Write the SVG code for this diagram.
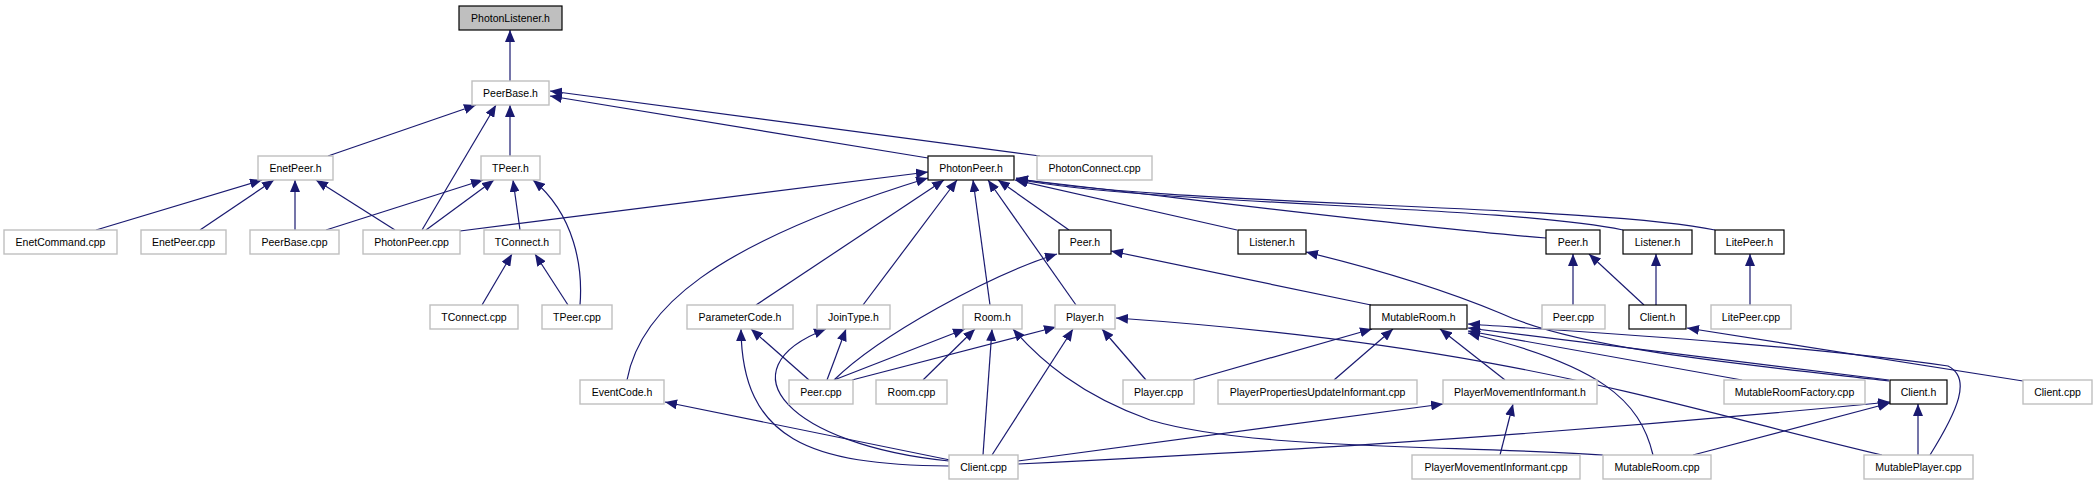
<svg xmlns="http://www.w3.org/2000/svg" width="2096" height="485" viewBox="0 0 2096 485">
<defs>
<marker id="ah" viewBox="0 0 12 10" refX="12" refY="5" markerWidth="12" markerHeight="10" markerUnits="userSpaceOnUse" orient="auto">
<path d="M0,0 L12,5 L0,10 z" fill="#191970"/>
</marker>
</defs>
<style>
rect.g{fill:#ffffff;stroke:#bfbfbf;stroke-width:1.4}
rect.b{fill:#ffffff;stroke:#000000;stroke-width:1.2}
rect.root{fill:#bfbfbf;stroke:#000000;stroke-width:1.2}
text{font-family:"Liberation Sans",Arial,sans-serif;font-size:10.5px;fill:#000;text-anchor:middle}
#edges path{fill:none;stroke:#191970;stroke-width:1.2;marker-end:url(#ah)}
</style>
<rect width="2096" height="485" fill="#ffffff"/>
<g id="edges">
<path d="M510,81 L510,30"/>
<path d="M328,156 L476,105"/>
<path d="M422,230 L496,105"/>
<path d="M510,156 L510,105"/>
<path d="M928,158 L550,96"/>
<path d="M1040,156 L550,91"/>
<path d="M96,230 L262,180"/>
<path d="M200,230 L274,180"/>
<path d="M295,230 L295,180"/>
<path d="M395,230 L316,180"/>
<path d="M326,230 L483,180"/>
<path d="M426,230 L494,180"/>
<path d="M520,230 L513,180"/>
<path d="M580,305 C583,268 575,215 533,180"/>
<path d="M482,305 L512,254"/>
<path d="M568,305 L535,254"/>
<path d="M460,231 L928,172"/>
<path d="M627,380 C640,310 710,245 928,178"/>
<path d="M756,305 L944,180"/>
<path d="M863,305 L957,180"/>
<path d="M990,305 L973,180"/>
<path d="M1076,305 L988,180"/>
<path d="M1069,230 L998,180"/>
<path d="M1237,230 L1015,180"/>
<path d="M1546,238 C1400,226 1200,200 1016,179"/>
<path d="M1623,230 C1500,205 1150,205 1016,179"/>
<path d="M1715,230 C1600,205 1150,205 1016,178"/>
<path d="M834,380 C880,335 990,275 1057,254"/>
<path d="M1371,305 L1111,251"/>
<path d="M1889,381 C1750,365 1580,350 1500,313 C1440,288 1380,270 1306,252"/>
<path d="M1653,455 C1640,400 1600,365 1468,333"/>
<path d="M1889,380 L1468,328"/>
<path d="M1742,380 L1468,331"/>
<path d="M1930,455 C1958,410 1972,378 1948,366 C1800,345 1600,333 1468,324"/>
<path d="M1193,380 L1372,329"/>
<path d="M1334,380 L1393,329"/>
<path d="M1505,380 L1440,329"/>
<path d="M1573,305 L1573,254"/>
<path d="M1644,305 L1589,254"/>
<path d="M1656,305 L1656,254"/>
<path d="M1750,305 L1750,254"/>
<path d="M2023,381 L1687,328"/>
<path d="M809,380 L751,329"/>
<path d="M949,466 C810,465 742,440 741,329"/>
<path d="M827,380 L846,329"/>
<path d="M949,461 C790,445 720,370 826,329"/>
<path d="M834,380 L965,329"/>
<path d="M923,380 L975,329"/>
<path d="M983,455 L992,329"/>
<path d="M1603,455 C1450,445 1250,450 1150,420 C1080,395 1040,360 1013,329"/>
<path d="M852,380 L1056,327"/>
<path d="M992,455 L1073,329"/>
<path d="M1146,380 L1102,329"/>
<path d="M1882,455 C1650,400 1500,345 1116,318"/>
<path d="M950,460 L665,402"/>
<path d="M1018,461 L1443,404"/>
<path d="M1018,464 C1200,455 1500,440 1890,402"/>
<path d="M1693,455 L1890,403"/>
<path d="M1918,455 L1918,404"/>
<path d="M1500,455 L1513,404"/>
</g>
<g id="n_photonlistener_h"><rect class="root" x="459" y="6" width="103" height="24"/><text x="510.5" y="22">PhotonListener.h</text></g>
<g id="n_peerbase_h"><rect class="g" x="472" y="81" width="77" height="24"/><text x="510.5" y="97">PeerBase.h</text></g>
<g id="n_enetpeer_h"><rect class="g" x="258" y="156" width="75" height="24"/><text x="295.5" y="172">EnetPeer.h</text></g>
<g id="n_tpeer_h"><rect class="g" x="481" y="156" width="59" height="24"/><text x="510.5" y="172">TPeer.h</text></g>
<g id="n_photonpeer_h"><rect class="b" x="928" y="156" width="86" height="24"/><text x="971" y="172">PhotonPeer.h</text></g>
<g id="n_photonconnect_cpp"><rect class="g" x="1037" y="156" width="115" height="24"/><text x="1094.5" y="172">PhotonConnect.cpp</text></g>
<g id="n_enetcommand_cpp"><rect class="g" x="4" y="230" width="113" height="24"/><text x="60.5" y="246">EnetCommand.cpp</text></g>
<g id="n_enetpeer_cpp"><rect class="g" x="141" y="230" width="85" height="24"/><text x="183.5" y="246">EnetPeer.cpp</text></g>
<g id="n_peerbase_cpp"><rect class="g" x="250" y="230" width="89" height="24"/><text x="294.5" y="246">PeerBase.cpp</text></g>
<g id="n_photonpeer_cpp"><rect class="g" x="363" y="230" width="97" height="24"/><text x="411.5" y="246">PhotonPeer.cpp</text></g>
<g id="n_tconnect_h"><rect class="g" x="484" y="230" width="76" height="24"/><text x="522" y="246">TConnect.h</text></g>
<g id="n_peer_h_1"><rect class="b" x="1059" y="230" width="52" height="24"/><text x="1085" y="246">Peer.h</text></g>
<g id="n_listener_h_1"><rect class="b" x="1238" y="230" width="68" height="24"/><text x="1272" y="246">Listener.h</text></g>
<g id="n_peer_h_2"><rect class="b" x="1546" y="230" width="54" height="24"/><text x="1573" y="246">Peer.h</text></g>
<g id="n_listener_h_2"><rect class="b" x="1623" y="230" width="69" height="24"/><text x="1657.5" y="246">Listener.h</text></g>
<g id="n_litepeer_h"><rect class="b" x="1715" y="230" width="69" height="24"/><text x="1749.5" y="246">LitePeer.h</text></g>
<g id="n_tconnect_cpp"><rect class="g" x="430" y="305" width="88" height="24"/><text x="474" y="321">TConnect.cpp</text></g>
<g id="n_tpeer_cpp"><rect class="g" x="542" y="305" width="70" height="24"/><text x="577" y="321">TPeer.cpp</text></g>
<g id="n_parametercode_h"><rect class="g" x="687" y="305" width="106" height="24"/><text x="740" y="321">ParameterCode.h</text></g>
<g id="n_jointype_h"><rect class="g" x="817" y="305" width="73" height="24"/><text x="853.5" y="321">JoinType.h</text></g>
<g id="n_room_h"><rect class="g" x="963" y="305" width="59" height="24"/><text x="992.5" y="321">Room.h</text></g>
<g id="n_player_h"><rect class="g" x="1055" y="305" width="60" height="24"/><text x="1085" y="321">Player.h</text></g>
<g id="n_mutableroom_h"><rect class="b" x="1370" y="305" width="97" height="24"/><text x="1418.5" y="321">MutableRoom.h</text></g>
<g id="n_peer_cpp_2"><rect class="g" x="1542" y="305" width="63" height="24"/><text x="1573.5" y="321">Peer.cpp</text></g>
<g id="n_client_h_1"><rect class="b" x="1629" y="305" width="57" height="24"/><text x="1657.5" y="321">Client.h</text></g>
<g id="n_litepeer_cpp"><rect class="g" x="1711" y="305" width="80" height="24"/><text x="1751" y="321">LitePeer.cpp</text></g>
<g id="n_eventcode_h"><rect class="g" x="580" y="380" width="84" height="24"/><text x="622" y="396">EventCode.h</text></g>
<g id="n_peer_cpp_1"><rect class="g" x="789" y="380" width="64" height="24"/><text x="821" y="396">Peer.cpp</text></g>
<g id="n_room_cpp"><rect class="g" x="876" y="380" width="71" height="24"/><text x="911.5" y="396">Room.cpp</text></g>
<g id="n_player_cpp"><rect class="g" x="1123" y="380" width="71" height="24"/><text x="1158.5" y="396">Player.cpp</text></g>
<g id="n_playerpropertiesupdateinformant_cpp"><rect class="g" x="1218" y="380" width="199" height="24"/><text x="1317.5" y="396">PlayerPropertiesUpdateInformant.cpp</text></g>
<g id="n_playermovementinformant_h"><rect class="g" x="1443" y="380" width="154" height="24"/><text x="1520" y="396">PlayerMovementInformant.h</text></g>
<g id="n_mutableroomfactory_cpp"><rect class="g" x="1724" y="380" width="141" height="24"/><text x="1794.5" y="396">MutableRoomFactory.cpp</text></g>
<g id="n_client_h_2"><rect class="b" x="1890" y="380" width="57" height="24"/><text x="1918.5" y="396">Client.h</text></g>
<g id="n_client_cpp_2"><rect class="g" x="2023" y="380" width="69" height="24"/><text x="2057.5" y="396">Client.cpp</text></g>
<g id="n_client_cpp_1"><rect class="g" x="949" y="455" width="69" height="24"/><text x="983.5" y="471">Client.cpp</text></g>
<g id="n_playermovementinformant_cpp"><rect class="g" x="1412" y="455" width="168" height="24"/><text x="1496" y="471">PlayerMovementInformant.cpp</text></g>
<g id="n_mutableroom_cpp"><rect class="g" x="1603" y="455" width="108" height="24"/><text x="1657" y="471">MutableRoom.cpp</text></g>
<g id="n_mutableplayer_cpp"><rect class="g" x="1864" y="455" width="109" height="24"/><text x="1918.5" y="471">MutablePlayer.cpp</text></g>
</svg>
